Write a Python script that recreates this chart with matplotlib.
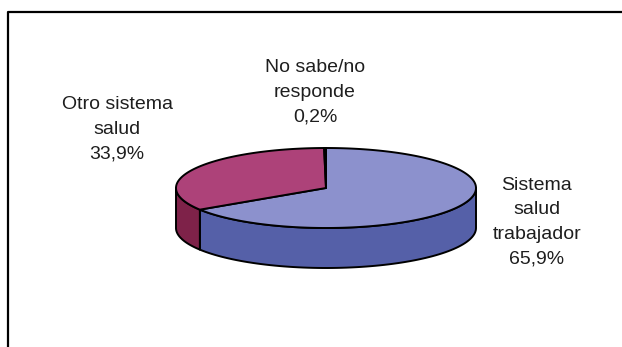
import numpy as np
import matplotlib
matplotlib.use("Agg")
from matplotlib import pyplot as plt
from matplotlib.patches import Polygon

# datos del grafico (sentido horario desde las 12)
labels = ["Sistema\nsalud\ntrabajador", "Otro sistema\nsalud", "No sabe/no\nresponde"]
values = [65.9, 33.9, 0.2]
pct_text = ["65,9%", "33,9%", "0,2%"]

top_colors = ["#8c91cd", "#ad4279", "#c8c8c8"]
side_colors = ["#5560a8", "#7e2249", "#909090"]

plt.rcParams['font.family'] = ['Liberation Sans', 'DejaVu Sans']

fig = plt.figure(figsize=(6.22, 3.47), dpi=100)
ax = fig.add_axes([0, 0, 1, 1])
ax.set_xlim(0, 622)
ax.set_ylim(347, 0)
ax.axis("off")

# marco
ax.plot([8, 8, 640], [347, 12, 12], color="black", lw=1.6)

# geometria de la torta
cx, cy = 326, 188
a, b = 150, 40
depth = 40


def pt(t, dz=0):
    t = np.radians(t)
    return cx + a * np.cos(t), cy - b * np.sin(t) + dz


fracs = np.array(values) / sum(values)
starts = 90 - 360 * np.concatenate([[0], np.cumsum(fracs)[:-1]])
ends = starts - 360 * fracs

# paredes laterales (solo frente: 180..360)
for i in range(len(values)):
    lo, hi = ends[i], starts[i]
    for off in (0, 360, -360):
        l2 = max(lo + off, 180)
        h2 = min(hi + off, 360)
        if h2 <= l2:
            continue
        ts = np.linspace(l2, h2, 80)
        upper = [pt(t) for t in ts]
        lower = [pt(t, depth) for t in ts[::-1]]
        ax.add_patch(Polygon(upper + lower, closed=True, fc=side_colors[i],
                             ec="black", lw=1.4, joinstyle="round"))

# caras superiores
for i in range(len(values)):
    ts = np.linspace(starts[i], ends[i], 200)
    poly = [(cx, cy)] + [pt(t) for t in ts]
    ax.add_patch(Polygon(poly, closed=True, fc=top_colors[i],
                         ec="black", lw=1.4, joinstyle="round"))

# etiquetas
lab_pos = [(537, 222), (117, 129), (315, 92)]
for i in range(len(values)):
    x, y = lab_pos[i]
    ax.text(x, y, labels[i] + "\n" + pct_text[i], ha="center", va="center",
            fontsize=14, linespacing=1.58, color="#1e1e1e")

fig.savefig("out.png", dpi=100)
